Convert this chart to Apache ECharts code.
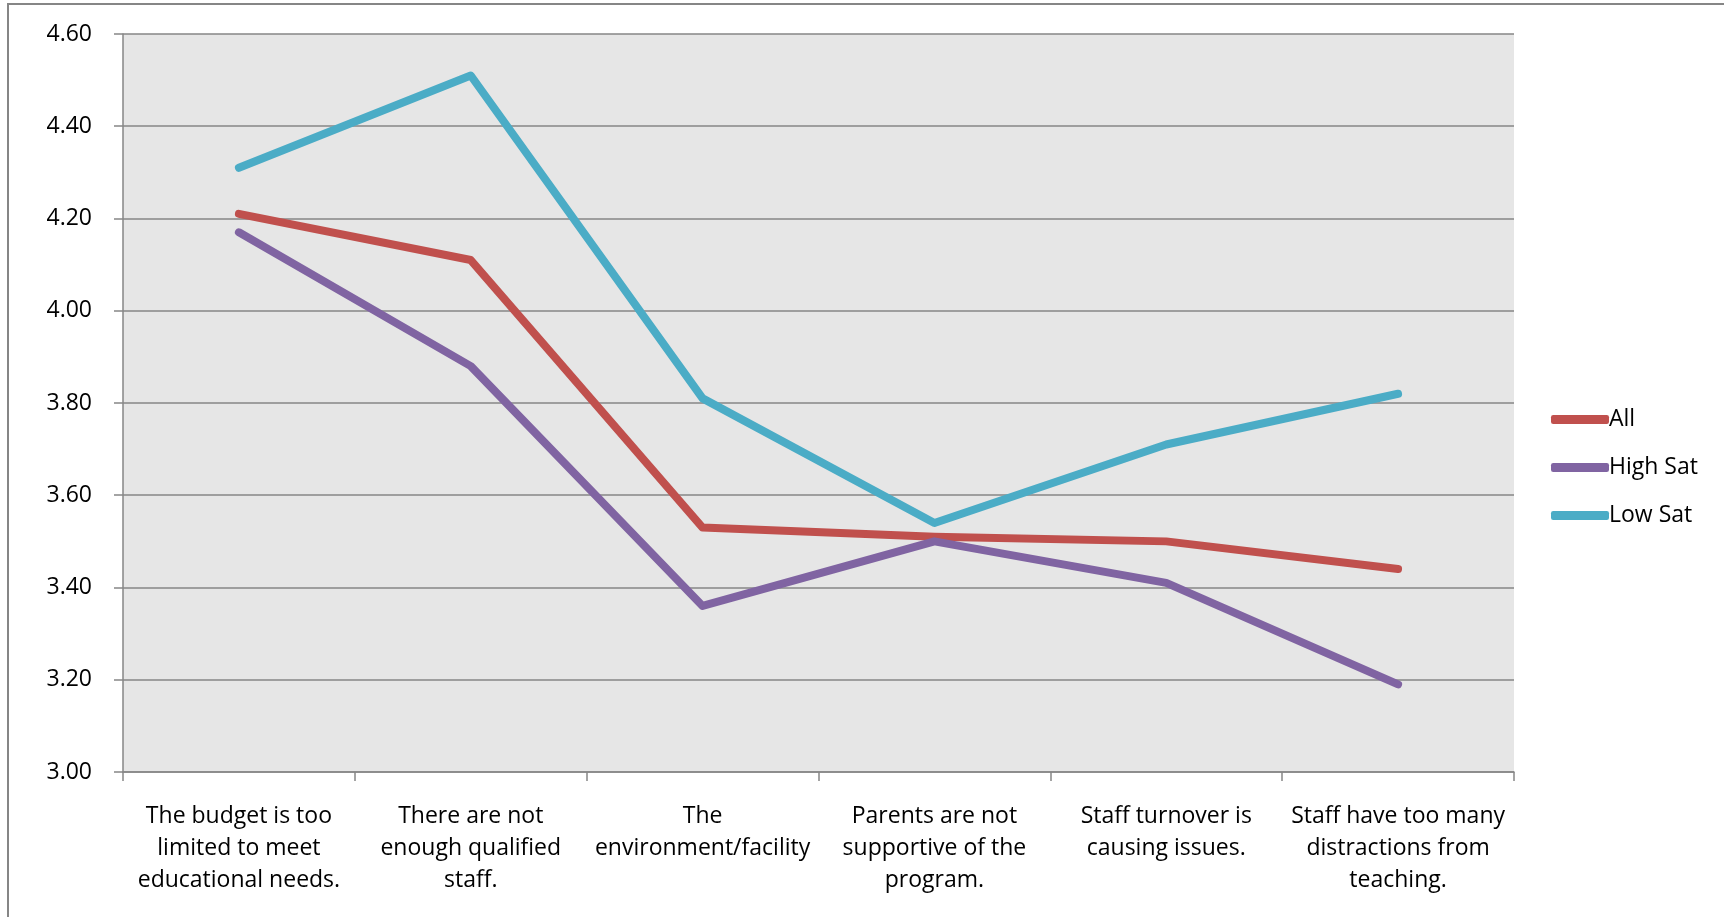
<!DOCTYPE html>
<html>
<head>
<meta charset="utf-8">
<script src="https://cdn.jsdelivr.net/npm/echarts@6/dist/echarts.min.js"></script>
<style>
  html, body { margin: 0; padding: 0; background: #fff; }
  #chart { width: 1724px; height: 917px; }
</style>
</head>
<body>
<div id="chart"></div>
<script>
var categories = [
  'The budget is too\nlimited to meet\neducational needs.',
  'There are not\nenough qualified\nstaff.',
  'The\nenvironment/facility',
  'Parents are not\nsupportive of the\nprogram.',
  'Staff turnover is\ncausing issues.',
  'Staff have too many\ndistractions from\nteaching.'
]
var allValues = [4.21, 4.11, 3.53, 3.51, 3.50, 3.44]
var highSatValues = [4.17, 3.88, 3.36, 3.50, 3.41, 3.19]
var lowSatValues = [4.31, 4.51, 3.81, 3.54, 3.71, 3.82]

var font = '"Open Sans", "Liberation Sans", sans-serif'
var axisGray = '#868686'

var chart = echarts.init(document.getElementById('chart'))

function lineSeries(name, data, color) {
  return {
    name: name,
    type: 'line',
    data: data,
    symbol: 'none',
    lineStyle: { width: 8, color: color, cap: 'round', join: 'round' },
    itemStyle: { color: color }
  }
}

var option = {
  animation: false,
  textStyle: { fontFamily: font },
  graphic: [
    {
      // outer chart border
      type: 'rect',
      shape: { x: 8, y: 4, width: 1800, height: 1000 },
      style: { fill: 'none', stroke: axisGray, lineWidth: 2 },
      silent: true
    }
  ],
  grid: {
    left: 123,
    top: 34,
    right: 210,
    bottom: 145,
    show: true,
    backgroundColor: '#e6e6e6',
    borderWidth: 0
  },
  legend: {
    orient: 'vertical',
    left: 1546,
    top: 403,
    itemWidth: 58,
    itemHeight: 9,
    itemGap: 25,
    icon: 'roundRect',
    textStyle: { fontSize: 23, color: '#000', fontFamily: font, padding: [0, 0, 0, -5] },
    data: ['All', 'High Sat', 'Low Sat']
  },
  xAxis: {
    type: 'category',
    data: categories,
    boundaryGap: true,
    axisLine: { show: true, lineStyle: { color: axisGray, width: 1.5 } },
    axisTick: { show: true, length: 9, lineStyle: { color: axisGray, width: 1.5 } },
    axisLabel: {
      interval: 0,
      margin: 28,
      color: '#000',
      fontSize: 23,
      lineHeight: 32,
      fontFamily: font,
      align: 'center'
    }
  },
  yAxis: {
    type: 'value',
    min: 3.0,
    max: 4.6,
    interval: 0.2,
    axisLine: { show: true, lineStyle: { color: axisGray, width: 1.5 } },
    axisTick: { show: true, inside: false, length: 9, lineStyle: { color: axisGray, width: 1.5 } },
    splitLine: { show: true, lineStyle: { color: axisGray, width: 1.5 } },
    axisLabel: {
      margin: 31,
      color: '#000',
      fontSize: 23,
      fontFamily: font,
      formatter: function (v) { return v.toFixed(2) }
    }
  },
  series: [
    lineSeries('All', allValues, '#C0504D'),
    lineSeries('High Sat', highSatValues, '#8064A2'),
    lineSeries('Low Sat', lowSatValues, '#4BACC6')
  ]
}

chart.setOption(option)
</script>
</body>
</html>
